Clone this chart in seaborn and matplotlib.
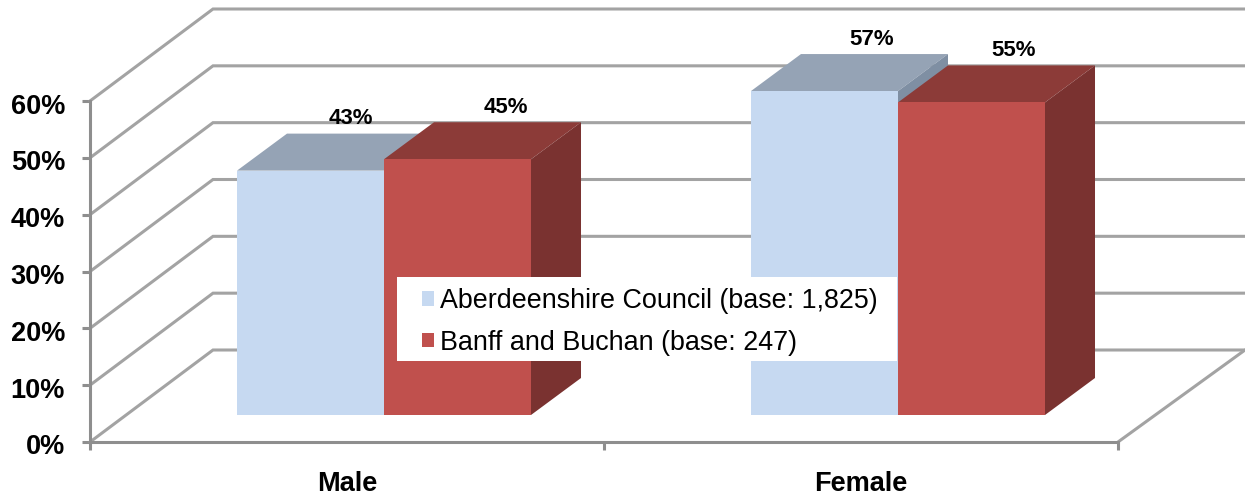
import pandas as pd
import seaborn as sns
from matplotlib import pyplot as plt
from matplotlib.patches import Polygon, Rectangle
from matplotlib.transforms import ScaledTranslation

# values
categories = ['Male', 'Female']
series_names = ['Aberdeenshire Council (base: 1,825)', 'Banff and Buchan (base: 247)']
aberdeenshire = [43, 57]
banff = [45, 55]
y_ticks = [0, 10, 20, 30, 40, 50, 60]

front_colors = ['#C6D9F1', '#C0504D']
top_colors = ['#95A3B5', '#8C3B38']
side_colors = ['#7F8FA3', '#7A3230']
grid_color = '#A3A3A3'

# sideways shift of the value labels in pixels, one row per series
label_shift = [[40, 47], [48, 42]]

W, H = 1245, 497
sns.set_style('white')
plt.rcParams['font.family'] = ['Liberation Sans', 'DejaVu Sans']

df = pd.DataFrame({
    'category': categories * 2,
    'series': [series_names[0]] * 2 + [series_names[1]] * 2,
    'value': aberdeenshire + banff,
})

fig = plt.figure(figsize=(W / 100, H / 100), dpi=100)


# axes rectangle given in picture pixels
def rect(left, top, right, bottom):
    return [left / W, 1 - bottom / H, (right - left) / W, (bottom - top) / H]


# front plane of the 3d box holds the real axis
ax = fig.add_axes(rect(90, 101, 1118, 442))
# bars stand further back on the floor, so they get their own shifted axes
ax_bars = fig.add_axes(rect(127, 74, 1155, 415))

sns.barplot(data=df, x='category', y='value', hue='series', order=categories,
            hue_order=series_names, palette=front_colors, width=0.572,
            saturation=1, ax=ax_bars, zorder=5, linewidth=0)
handles, labels = ax_bars.get_legend_handles_labels()
ax_bars.get_legend().remove()
ax_bars.set_xlim(-0.5, 1.5)
ax_bars.set_ylim(0, 60)
ax_bars.axis('off')

px_x = 2 / 1028   # category units per pixel
px_y = 60 / 341   # percent per pixel

# back wall and side wall
box_dx = 123 * px_x
box_dy = 92 * px_y
right_end = 1.5 + 127 * px_x
ax.set_xlim(-0.5, 1.5)
ax.set_ylim(0, 60)
ax.set_facecolor('none')
for t in y_ticks:
    ax.plot([-0.5, -0.5 + box_dx, right_end], [t, t + box_dy, t + box_dy],
            color=grid_color, lw=2.2, clip_on=False, zorder=1, solid_joinstyle='miter')
ax.plot([1.5, right_end], [0, box_dy], color=grid_color, lw=2.2, clip_on=False, zorder=1)

ax.set_xticks([-0.5, 0.5, 1.5], labels=[])
ax.set_xticks([0, 1], labels=categories, minor=True)
ax.set_yticks(y_ticks, labels=[str(t) + '%' for t in y_ticks])
for side in ['top', 'right']:
    ax.spines[side].set_visible(False)
for side in ['left', 'bottom']:
    ax.spines[side].set_color('#8E8E8E')
    ax.spines[side].set_linewidth(2.2)
ax.tick_params(axis='both', which='major', length=6, width=2.2, color='#8E8E8E', left=True, bottom=True)
ax.tick_params(axis='x', which='minor', length=0, pad=21, labelsize=19.5)
ax.tick_params(axis='y', labelsize=19.5, pad=12)
plt.setp(ax.get_xticklabels(minor=True) + ax.get_yticklabels(), fontweight='bold', color='black')
# y labels sit a little under their ticks in the original
for label in ax.get_yticklabels():
    label.set_transform(label.get_transform() + ScaledTranslation(0, -2.5 / 100, fig.dpi_scale_trans))
ax.set_xlabel('')
ax.set_ylabel('')

# top and side faces of each bar, taken from the bars seaborn drew
bar_dx = 50 * px_x
bar_dy = 37 * px_y
for i, container in enumerate(ax_bars.containers):
    for j, bar in enumerate(container):
        x0 = bar.get_x()
        x1 = x0 + bar.get_width()
        h = bar.get_height()
        ax_bars.add_patch(Polygon([(x0, h), (x1, h), (x1 + bar_dx, h + bar_dy), (x0 + bar_dx, h + bar_dy)],
                                  facecolor=top_colors[i], edgecolor='none', clip_on=False, zorder=3 + i))
        ax_bars.add_patch(Polygon([(x1, 0), (x1 + bar_dx, bar_dy), (x1 + bar_dx, h + bar_dy), (x1, h)],
                                  facecolor=side_colors[i], edgecolor='none', clip_on=False, zorder=3 + i))
        # labels sit above the back edge of the top face
        ax_bars.text((x0 + x1) / 2 + label_shift[i][j] * px_x, h + 52 * px_y, str(int(h)) + '%',
                     ha='center', va='center', fontsize=16, fontweight='bold',
                     color='black', clip_on=False, zorder=6)

# legend box is wider than its contents, so the white backing is its own patch
ax_bars.add_patch(Rectangle((397 / W, 1 - 361 / H), 500 / W, 84 / H, transform=fig.transFigure,
                            facecolor='white', edgecolor='none', clip_on=False, zorder=9))
leg = ax_bars.legend(handles, labels, loc='upper left',
                     bbox_to_anchor=(422 / W, 1 - 288 / H), bbox_transform=fig.transFigure,
                     fontsize=19.4, frameon=False, borderaxespad=0, borderpad=0,
                     handlelength=0.44, handleheight=0.44, handletextpad=0.22, labelspacing=0.58)
leg.set_zorder(10)
for text in leg.get_texts():
    text.set_color('black')

plt.savefig('out.png', dpi=100)
